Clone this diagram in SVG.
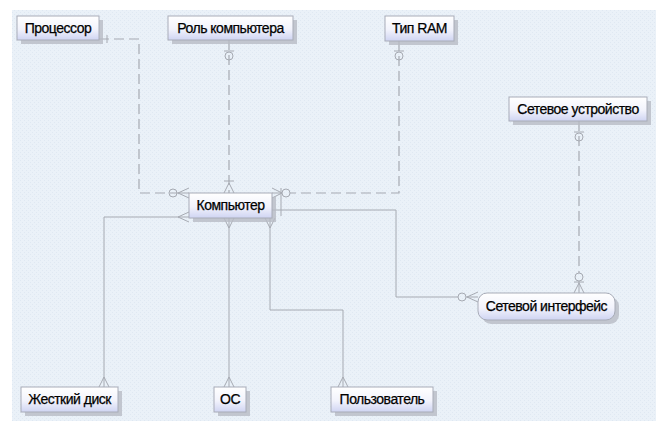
<svg xmlns="http://www.w3.org/2000/svg" width="666" height="439" viewBox="0 0 666 439">
<defs>
<linearGradient id="g" x1="0" y1="0" x2="0" y2="1">
<stop offset="0" stop-color="#ffffff"/>
<stop offset="0.55" stop-color="#f2f3fc"/>
<stop offset="1" stop-color="#cfd4f2"/>
</linearGradient>
<pattern id="dots" width="4" height="4" patternUnits="userSpaceOnUse">
<rect width="4" height="4" fill="#eaf1f8"/>
<rect width="1" height="1" fill="#dfe8f2"/>
<rect x="2" y="2" width="1" height="1" fill="#dfe8f2"/>
</pattern>
</defs>
<style>
.box{fill:url(#g);stroke:#a8acb8;stroke-width:1}
.sh{fill:#b8bcc4;opacity:0.8}
.t{font-family:"Liberation Sans",Arial,sans-serif;font-size:14px;fill:#000;stroke:#000;stroke-width:0.25px;text-anchor:middle;letter-spacing:-0.5px}
.ln{fill:none;stroke:#a6aab2;stroke-width:1}
.dl{fill:none;stroke:#a6aab2;stroke-width:1.2;stroke-dasharray:10 5}
.c{fill:none;stroke:#a6aab2;stroke-width:1}
</style>
<rect x="12" y="10" width="644" height="411" fill="url(#dots)"/>
<g id="connectors">
<path class="dl" d="M99,39 H139 V193 H178"/>
<path class="c" d="M107,35 V43"/>
<circle class="c" cx="173" cy="193" r="4" fill="#eaf1f8"/>
<path class="c" d="M178,193 L189,188 M178,193 L189,198 M178,193 H189"/>

<path class="dl" d="M229,40 V193"/>
<path class="c" d="M224,51 H234"/>
<circle class="c" cx="229" cy="56" r="4" fill="#eaf1f8"/>
<path class="c" d="M224,181 H234 M229,183 L224,193 M229,183 L234,193"/>

<path class="dl" d="M399,41 V193 H290"/>
<path class="c" d="M394,51 H404"/>
<circle class="c" cx="399" cy="56" r="4" fill="#eaf1f8"/>
<circle class="c" cx="286" cy="193" r="4" fill="#eaf1f8"/>
<path class="c" d="M282,193 L272,188 M282,193 L272,198 M282,193 H272"/>
<path class="c" d="M281,188 V216"/>

<path class="ln" d="M189,217 H104 V387"/>
<path class="c" d="M178,217 L189,212 M178,217 L189,222"/>
<path class="c" d="M104,377 L99,387 M104,377 L109,387"/>

<path class="ln" d="M229,218 V387"/>
<path class="c" d="M229,228 L224,218 M229,228 L234,218"/>
<path class="c" d="M229,377 L224,387 M229,377 L234,387"/>

<path class="ln" d="M270,218 V310 H343 V387"/>
<path class="c" d="M270,228 L265,218 M270,228 L275,218"/>
<path class="c" d="M343,377 L338,387 M343,377 L348,387"/>

<path class="ln" d="M272,210 H396 V297 H458"/>
<circle class="c" cx="462" cy="297" r="4" fill="#eaf1f8"/>
<path class="c" d="M467,297 L478,292 M467,297 L478,302 M466,297 H478"/>

<path class="dl" d="M579,121 V273"/>
<path class="c" d="M574,132 H584"/>
<circle class="c" cx="579" cy="137" r="4" fill="#eaf1f8"/>
<circle class="c" cx="579" cy="277" r="4" fill="#eaf1f8"/>
<path class="c" d="M574,282 H584 M579,283 L574,293 M579,283 L584,293 M579,281 V293"/>
</g>
<g id="n-processor">
<rect class="sh" x="21" y="20" width="82" height="24"/>
<rect class="box" x="17" y="16" width="82" height="24"/>
<text class="t" x="58" y="33">Процессор</text>
</g>
<g id="n-role">
<rect class="sh" x="172" y="20" width="125" height="24"/>
<rect class="box" x="168" y="16" width="125" height="24"/>
<text class="t" x="230.5" y="33">Роль компьютера</text>
</g>
<g id="n-ram">
<rect class="sh" x="389" y="20" width="69" height="25"/>
<rect class="box" x="385" y="16" width="69" height="25"/>
<text class="t" x="419.5" y="33">Тип RAM</text>
</g>
<g id="n-netdev">
<rect class="sh" x="513" y="101" width="138" height="24"/>
<rect class="box" x="509" y="97" width="138" height="24"/>
<text class="t" x="578" y="114">Сетевое устройство</text>
</g>
<g id="n-computer">
<rect class="sh" x="193" y="197" width="83" height="25"/>
<rect class="box" x="189" y="193" width="83" height="25"/>
<text class="t" x="230.5" y="210">Компьютер</text>
</g>
<g id="n-netif">
<rect class="sh" x="482" y="297" width="137" height="27" rx="9"/>
<rect class="box" x="478" y="293" width="137" height="27" rx="9"/>
<text class="t" x="546.5" y="311">Сетевой интерфейс</text>
</g>
<g id="n-hdd">
<rect class="sh" x="25" y="391" width="97" height="25"/>
<rect class="box" x="21" y="387" width="97" height="25"/>
<text class="t" x="69.5" y="404">Жесткий диск</text>
</g>
<g id="n-os">
<rect class="sh" x="218" y="391" width="32" height="25"/>
<rect class="box" x="214" y="387" width="32" height="25"/>
<text class="t" x="230" y="404">ОС</text>
</g>
<g id="n-user">
<rect class="sh" x="335" y="391" width="102" height="25"/>
<rect class="box" x="331" y="387" width="102" height="25"/>
<text class="t" x="382" y="404">Пользователь</text>
</g>
</svg>
